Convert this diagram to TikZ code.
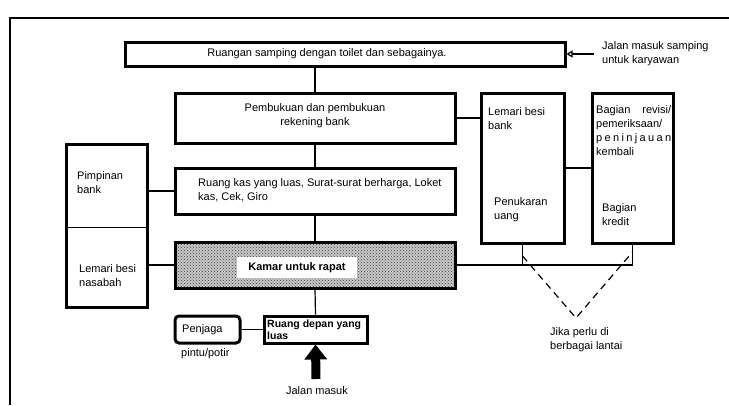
\documentclass[tikz,border=0pt]{standalone}
\usepackage{fontspec}
\setmainfont{Liberation Sans}
\usetikzlibrary{patterns,arrows.meta}

\begin{document}
\begin{tikzpicture}[x=1pt,y=-1pt,
  room/.style={draw,line width=3pt,inner sep=0pt},
  txt/.style={font=\fontsize{11}{14}\selectfont,align=left,inner sep=0pt},
  link/.style={line width=1.2pt}]
  \useasboundingbox (0,0) rectangle (729,405);
  \draw[line width=1.4pt] (10,405) -- (10,18) -- (729,18);

  \node (samping) at (345,54) [room,minimum width=440pt,minimum height=24pt] {};
  \node (pembukuan) at (315,118) [room,minimum width=280pt,minimum height=50pt] {};
  \node (kas) at (315,191) [room,minimum width=280pt,minimum height=46pt] {};
  \node (rapat) at (315,265) [room,minimum width=280pt,minimum height=46pt,preaction={fill=black!22},pattern=crosshatch dots,pattern color=black!75] {};
  \node (lemari) at (522.5,168) [room,minimum width=83pt,minimum height=150pt] {};
  \node (bagian) at (632.5,168) [room,minimum width=81pt,minimum height=150pt] {};
  \node (pimpinan) at (107,186) [minimum width=80pt,minimum height=82pt,inner sep=0pt] {};
  \node (nasabah) at (107,267) [minimum width=80pt,minimum height=80pt,inner sep=0pt] {};
  \draw[room] (pimpinan.north west) rectangle (nasabah.south east);
  \node (penjaga) at (207.5,329.5) [room,rounded corners=4pt,minimum width=65pt,minimum height=27pt] {};
  \node (depan) at (315.5,329.5) [room,minimum width=103pt,minimum height=27pt] {};
  \coordinate (masuk) at (316,379);
  \coordinate (lantai) at (576,318);

  \node (tsamping) at (327,54) [txt] {Ruangan samping dengan toilet dan sebagainya.};
  \node (tmasuk) at (602,54) [txt,anchor=west] {Jalan masuk samping\\untuk karyawan};
  \node (tpembukuan) at (315,116) [txt,align=center] {Pembukuan dan pembukuan\\rekening bank};
  \node (tkas) at (198,190.5) [txt,anchor=west] {Ruang kas yang luas, Surat-surat berharga, Loket\\kas, Cek, Giro};
  \node (trapat) at (297,267.5) [txt,fill=white,font=\fontsize{11}{14}\selectfont\bfseries,minimum width=120pt,minimum height=21pt] {Kamar untuk rapat};
  \node (tpimpinan) at (77,182.5) [txt,anchor=west] {Pimpinan\\bank};
  \node (tnasabah) at (79,275.5) [txt,anchor=west] {Lemari besi\\nasabah};
  \node (tlemari) at (488,118.5) [txt,anchor=west] {Lemari besi\\bank};
  \node (tuang) at (494,210) [txt,anchor=west] {Penukaran\\uang};
  \node (trevisi) at (596,131) [txt,anchor=west,text width=75pt] {Bagian\hfill revisi/\\pemeriksaan/\\p\hfill e\hfill n\hfill i\hfill n\hfill j\hfill a\hfill u\hfill a\hfill n\\kembali};
  \node (tkredit) at (602,215) [txt,anchor=west] {Bagian\\kredit};
  \node (tpenjaga) at (182,330) [txt,anchor=west] {Penjaga};
  \node (tportir) at (181,354) [txt,anchor=west] {pintu/potir};
  \node (tdepan) at (267,329.5) [txt,anchor=west,font=\fontsize{10.5}{12}\selectfont\bfseries] {Ruang depan yang\\luas};
  \node (tjalan) at (317,391) [txt] {Jalan masuk};
  \node (tlantai) at (550,340) [txt,anchor=west] {Jika perlu di\\berbagai lantai};

  \draw[link,-{Triangle[open,length=6pt,width=7pt]}] ([xshift=-8pt]tmasuk.west) -- (samping.east);
  \draw[link] (pembukuan.north) -- (pembukuan.north |- samping.south);
  \draw[link] (pembukuan) -- (kas);
  \draw[link] (kas) -- (rapat);
  \draw[link] (rapat.south) -- (depan.north);
  \draw[link] (pembukuan.east) -- (pembukuan.east -| lemari.west);
  \draw[link] (lemari) -- (bagian);
  \draw[link] (kas.west) -- (kas.west -| pimpinan.east);
  \draw[link] (rapat.west) -- (rapat.west -| nasabah.east);
  \draw[link] (pimpinan.south west) -- (pimpinan.south east);
  \draw[link] (lemari.south) |- (rapat.east);
  \draw[link] (bagian.south) |- (rapat.east);
  \draw[link] (penjaga) -- (depan);
  \draw[link,dashed,dash pattern=on 7pt off 5pt] (lemari.south |- 0,256) -- (lantai) -- (bagian.south |- 0,252);
  \draw[line width=9pt,-{Triangle[length=15pt,width=22pt]}] (masuk) -- (depan.south);
\end{tikzpicture}
\end{document}
